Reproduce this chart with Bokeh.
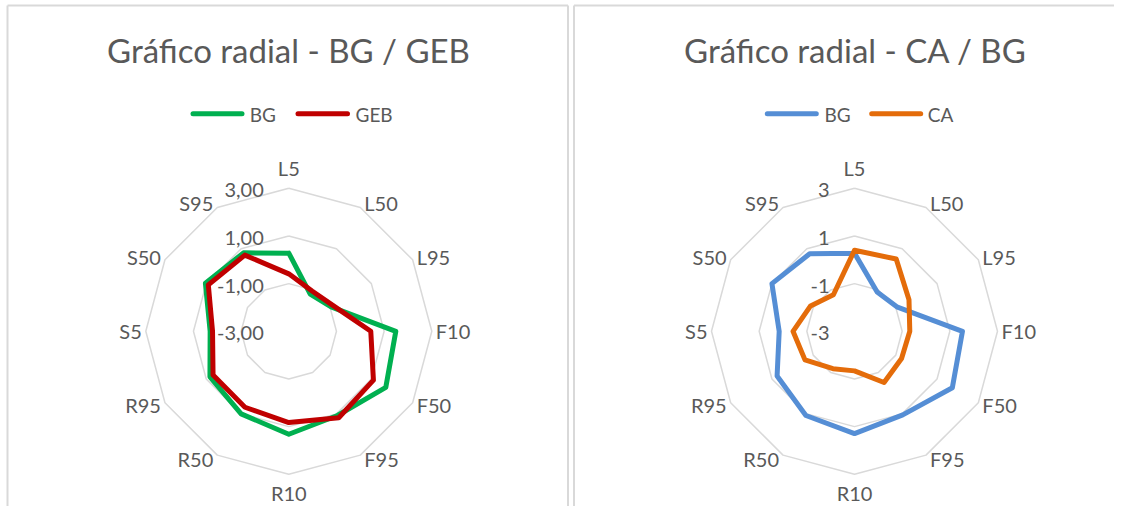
import numpy as np
from bokeh.plotting import figure
from bokeh.layouts import row
from bokeh.models import Range1d
from bokeh.core.properties import value
from bokeh.embed import file_html
from bokeh.resources import INLINE

# ---------------- data ----------------
categories = ["L5", "L50", "L95", "F10", "F50", "F95",
              "R10", "R50", "R95", "S5", "S50", "S95"]
ticks = [-3, -1, 1, 3]
left_tick_labels = ["-3,00", "-1,00", "1,00", "3,00"]
right_tick_labels = ["-3", "-1", "1", "3"]

bg_left = [0.28, -1.20, -0.95, 1.49, 1.70, 1.08, 1.32, 1.00, 0.82, 0.30, 1.04, 0.80]
geb = [-0.59, -1.05, -0.85, 0.44, 1.10, 1.19, 0.83, 0.68, 0.67, 0.20, 0.90, 0.69]

bg_right = [0.28, -1.10, -0.95, 1.53, 1.74, 1.05, 1.29, 1.08, 0.75, 0.16, 1.00, 0.76]
ca = [0.40, 0.50, -0.36, -0.68, -0.72, -0.52, -1.34, -1.19, -0.60, -0.42, -0.87, -1.23]

titles = ["Gráfico radial - BG / GEB", "Gráfico radial - CA / BG"]

# ---------------- style ----------------
FONT = "Lato"
TEXT_COLOR = "#595959"
GRID_COLOR = "#d9d9d9"
GREEN, RED, BLUE, ORANGE = "#00b050", "#c00000", "#558ed5", "#e46c0a"
RMIN, RMAX = -3.0, 3.0
R_OUT = 143.0      # outer ring radius (px)
H = 506
CY = 330.8         # radar centre (screen y)
n = len(categories)
angles = np.arange(n) * 2 * np.pi / n   # clockwise from top


def radial(v):
    return (np.asarray(v, dtype=float) - RMIN) / (RMAX - RMIN) * R_OUT


def xy(vals):
    r = radial(vals)
    x = r * np.sin(angles)
    y = r * np.cos(angles)
    return np.append(x, x[0]), np.append(y, y[0])


def label_layout():
    """Excel-like placement of category labels around the outer ring."""
    xs, ys, aligns = [], [], []
    for a in angles:
        s, c = np.sin(a), np.cos(a)
        vx, vy = R_OUT * s, R_OUT * c
        if abs(s) < 1e-6:
            xs.append(vx)
            ys.append(vy + (20.5 if c > 0 else -18.5))
            aligns.append("center")
        else:
            xs.append(vx + (4 if s > 0 else -4))
            ys.append(vy + 5 * c)
            aligns.append("left" if s > 0 else "right")
    return xs, ys, aligns


def make_panel(width, x0, cx, title_x, title, tick_labels, series, names, colors,
               legend_geom, borders):
    p = figure(width=width, height=H, output_backend="svg", toolbar_location=None,
               x_axis_type=None, y_axis_type=None, min_border=0,
               x_range=Range1d(x0 - cx, x0 + width - cx),
               y_range=Range1d(CY - H, CY))
    p.outline_line_color = None
    p.grid.visible = False
    p.background_fill_color = "white"
    p.border_fill_color = "white"

    # panel borders
    for (xs, ys) in borders:
        p.line([x - cx for x in xs], [CY - y for y in ys],
               line_color=GRID_COLOR, line_width=2)

    # rings
    for t in ticks[1:]:
        rx, ry = xy([t] * n)
        p.line(rx, ry, line_color=GRID_COLOR, line_width=1.5)

    # tick labels
    p.text(x=[-25] * len(ticks), y=list(radial(ticks) - 2), text=tick_labels,
           text_align="right", text_baseline="middle", text_color=TEXT_COLOR,
           text_font=value(FONT), text_font_size="20px")

    # category labels
    lx, ly_, la = label_layout()
    for x, y, t, al in zip(lx, ly_, categories, la):
        p.text(x=[x], y=[y], text=[t], text_align=al, text_baseline="middle",
               text_color=TEXT_COLOR, text_font=value(FONT), text_font_size="20px")

    # series
    for vals, c in zip(series, colors):
        sx, sy = xy(vals)
        p.line(sx, sy, line_color=c, line_width=5, line_join="round", line_cap="round")

    # title
    p.text(x=[title_x - cx], y=[CY - 49], text=[title],
           text_align="center", text_baseline="middle", text_color=TEXT_COLOR,
           text_font=value(FONT), text_font_size="33px")

    # legend
    ly = CY - 113.3
    for (a, b, tx), name, c in zip(legend_geom, names, colors):
        p.line([a - cx, b - cx], [ly, ly], line_color=c, line_width=5, line_cap="round")
        p.text(x=[tx - cx], y=[CY - 114.4], text=[name], text_align="left",
               text_baseline="middle", text_color=TEXT_COLOR,
               text_font=value(FONT), text_font_size="19px")
    return p


CX1, CX2 = 288.3, 854.0
W1, W2 = 570, 544

b1 = [([7, 7], [5, 530]), ([7, 567.5], [5, 5]), ([567.5, 567.5], [5, 530])]
b2 = [([573.5, 573.5], [5, 530]), ([573.5, 1200], [5, 5])]

p1 = make_panel(W1, 0, CX1, 288.0, titles[0], left_tick_labels, [bg_left, geb],
                ["BG", "GEB"], [GREEN, RED],
                [(192.5, 241.5, 249.3), (297.5, 347.0, 355.0)], b1)
p2 = make_panel(W2, 570, CX2, 855.0, titles[1], right_tick_labels, [bg_right, ca],
                ["BG", "CA"], [BLUE, ORANGE],
                [(766.8, 815.8, 824.0), (871.2, 920.2, 927.3)], b2)

layout = row(p1, p2)
open("out.html", "w").write(file_html(layout, INLINE))
